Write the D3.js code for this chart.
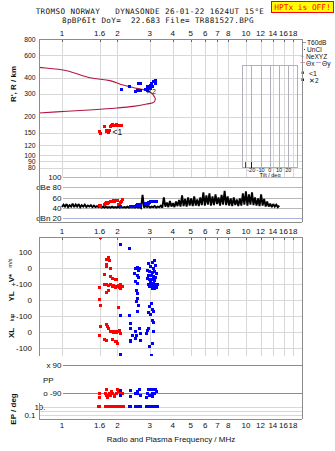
<!DOCTYPE html>
<html><head><meta charset="utf-8">
<script src="https://cdn.jsdelivr.net/npm/d3@7"></script>
<style>
body{margin:0;background:#fff}
svg{display:block}
text{font-family:"Liberation Sans",Arial,sans-serif;fill:#111}
.mono{font-family:"DejaVu Sans Mono",monospace;white-space:pre}
</style></head><body>
<svg id="chart" width="335" height="451"></svg>
<script>
// ---- frequency axis ----
const freqTicks = [1, 1.6, 2, 3, 4, 5, 6, 7, 8, 10, 12, 14, 16, 18];

// ---- virtual range axis (km) ----
const rangeTicks = [800, 600, 400, 300, 200, 150, 120, 100, 90, 80];

// ---- electron density profile: plasma frequency (MHz) vs real height (km) ----
const profileMHz = [0.70, 0.750, 1.061, 1.420, 1.823, 2.154, 2.547, 2.826, 3.007, 3.134, 3.215, 3.162, 2.886, 2.440, 1.983, 1.480, 1.061, 0.750, 0.70];
const profileKm  = [488, 482, 454, 400, 380, 351, 331, 321, 312, 294, 274, 259, 250, 240, 233, 226, 220, 213, 212];

// ---- receiver noise sweep ----
const noiseMHz = [1.000,1.019,1.039,1.059,1.079,1.100,1.121,1.142,1.164,1.187,1.209,1.233,1.256,1.280,1.305,1.330,1.356,1.382,1.408,1.435,1.463,1.491,1.519,1.549,1.578,1.609,1.640,1.671,1.703,1.736,1.769,1.803,1.838,1.873,1.909,1.946,1.983,2.021,2.060,2.100,2.140,2.181,2.223,2.266,2.309,2.354,2.399,2.445,2.492,2.540,2.588,2.638,2.689,2.740,2.793,2.847,2.901,2.957,3.014,3.072,3.131,3.191,3.252,3.314,3.378,3.443,3.509,3.576,3.645,3.715,3.786,3.859,3.933,4.008,4.085,4.164,4.244,4.325,4.408,4.493,4.579,4.667,4.757,4.848,4.941,5.036,5.133,5.231,5.332,5.434,5.538,5.645,5.753,5.864,5.976,6.091,6.208,6.327,6.449,6.573,6.699,6.828,6.959,7.092,7.229,7.367,7.509,7.653,7.800,7.950,8.102,8.258,8.416,8.578,8.743,8.911,9.082,9.256,9.434,9.615,9.800,9.988,10.18,10.38,10.57,10.78,10.98,11.19,11.41,11.63,11.85,12.08,12.31,12.55,12.79,13.03,13.28,13.54,13.80,14.06,14.33,14.61,14.89,15.17];
const noiseDb = [41,46,42,47,41,45,42,48,41,46,42,47,41,45,42,46,41,44,42,45,41,44,41,43,41,42,40,42,40,42,40,41,40,42,40,41,40,42,40,41,40,41,40,42,40,41,40,41,40,42,40,41,39,65,40,44,41,43,40,42,41,43,40,42,41,44,40,60,42,50,41,53,42,49,41,52,43,55,42,64,43,57,42,60,44,58,43,62,44,56,43,60,45,70,44,64,46,68,44,62,45,66,47,60,44,65,46,73,45,62,44,58,43,60,45,56,43,58,44,68,46,72,44,66,46,70,45,60,44,58,43,66,44,57,42,52,42,48,41,47,42,46,41,44];

// ---- trace 1 (red, "<1") ----
const t1Range = [[1.59,152],[1.61,148],[1.71,167],[1.74,157],[1.75,152],[1.79,150],[1.81,157],[1.83,166],[1.85,170],[1.89,172],[1.92,171],[1.95,171],[1.99,172],[2.03,171],[2.07,171],[2.11,170]];
const t1Amp = [[1.59,44],[1.61,45],[1.62,43],[1.71,47],[1.73,49],[1.75,50],[1.77,49],[1.80,51],[1.83,52],[1.86,52],[1.88,53],[1.91,54],[1.94,53],[1.98,55],[2.01,55],[2.04,47],[2.06,46],[2.08,50],[2.11,53],[2.14,56]];
const t1Vstar = [[1.61,195],[1.74,52],[1.79,66],[1.81,46],[1.75,25],[1.74,10],[1.83,0],[1.71,-38],[1.83,-52],[1.89,-63],[1.95,-67],[1.99,-73],[1.71,-104],[1.75,-100],[1.79,-109],[1.83,-104],[1.87,-115],[1.90,-109],[1.95,-121],[1.99,-115],[2.03,-109],[2.06,-121],[2.09,-104],[2.12,-115],[2.09,-125],[1.59,-121],[1.79,-136],[1.75,-150]];
const t1YL = [[1.59,6],[1.61,-30],[2.03,-47]];
const t1XL = [[1.61,35],[1.74,46],[1.76,35],[1.79,21],[1.83,8],[1.87,4],[1.90,0],[1.95,8],[1.99,0],[2.03,4],[2.06,14],[2.07,-6],[1.59,-17],[1.71,-48],[1.74,-54],[1.89,-48],[1.95,-59],[1.99,-59],[2.00,-69]];
const t1PP = [[1.60,-90],[1.59,-118],[1.74,-63],[1.72,-90],[1.74,-105],[1.77,-115],[1.81,-90],[1.84,-101],[1.89,-90],[1.92,-101],[1.97,-90],[2.00,-69],[2.04,-80],[2.07,-90],[2.12,-90],[2.09,-105],[1.79,-107],[1.86,-80],[1.94,-112]];
const t1EP = [[1.58,11],[1.60,11],[1.72,11],[1.74,11],[1.76,11],[1.78,11],[1.80,11],[1.82,11],[1.84,11],[1.86,11],[1.88,11],[1.90,11],[1.92,11],[1.94,11],[1.96,11],[1.98,11],[2.00,11],[2.02,11],[2.04,11],[2.06,11],[2.08,11],[2.10,11],[2.12,11],[2.15,10]];
const t1Tilt = -26.5;

// ---- trace 2 (blue, "✕2") ----
const t2Range = [[2.10,327],[2.33,345],[2.51,312],[2.56,321],[2.61,362],[2.66,362],[2.67,321],[2.84,325],[2.90,321],[2.92,341],[2.96,331],[3.02,351],[3.02,331],[3.08,362],[3.09,345],[3.14,373],[3.24,384],[3.24,362]];
const t2Amp = [[2.09,42],[2.37,43],[2.40,43],[2.44,42],[2.53,44],[2.57,46],[2.60,45],[2.65,44],[2.68,46],[2.86,48],[2.90,47],[2.94,49],[2.97,50],[3.00,51],[3.04,52],[3.08,53],[3.12,53],[3.16,52],[3.21,53],[3.26,53]];
const t2Vstar = [[2.09,146],[2.33,121],[2.51,-4],[2.56,4],[2.65,0],[2.62,-11],[2.49,-31],[2.56,-46],[2.62,-59],[2.51,-84],[2.56,-94],[2.54,-136],[2.96,31],[3.09,37],[3.18,46],[3.22,16],[3.03,10],[3.13,0],[2.92,-11],[2.99,-21],[3.09,-25],[3.18,-17],[3.26,-31],[2.96,-42],[3.05,-46],[3.13,-52],[3.22,-59],[2.90,-63],[2.99,-67],[3.09,-73],[3.18,-79],[3.03,-88],[3.13,-94],[3.22,-100],[2.96,-100],[3.05,-109],[3.15,-115],[3.26,-121],[3.09,-125],[3.18,-129],[2.99,-115],[3.29,-104]];
const t2YL = [[2.56,43],[2.58,12],[2.54,-9],[2.62,-36],[2.58,-72],[3.07,-19],[2.99,-41],[3.10,-61],[3.15,-68],[2.96,-76],[3.03,-88],[2.33,-93],[2.07,-93]];
const t2XL = [[3.09,71],[3.15,62],[2.35,56],[2.35,25],[2.65,25],[2.51,4],[2.67,-6],[2.54,-17],[2.90,14],[2.96,25],[2.87,-6],[3.13,4],[2.41,-17],[2.51,-38],[2.35,-54],[2.67,-54],[3.09,-69],[2.98,-90],[3.05,-146],[2.09,-136],[2.35,-59],[3.09,-73]];
const t2PP = [[2.09,-75],[2.09,-107],[2.35,-73],[2.51,-90],[2.56,-80],[2.65,-63],[2.67,-101],[2.58,-90],[2.87,-115],[2.96,-69],[3.03,-63],[3.09,-90],[3.15,-69],[3.22,-69],[2.99,-101],[3.09,-112],[3.18,-90],[3.26,-80],[2.92,-90],[2.35,-110]];
const t2EP = [[2.34,11],[2.37,11],[2.51,11],[2.54,11],[2.57,11],[2.60,11],[2.63,11],[2.66,11],[2.88,11],[2.91,11],[2.94,11],[2.97,11],[3.00,11],[3.03,11],[3.06,11],[3.09,11],[3.12,11],[3.15,11],[3.18,11],[3.21,11],[3.24,11],[3.27,11],[3.30,11]];
const t2Tilt = -20.5;

const tiltTicks = [-20, -10, 0, 10, 20];
const dbTicks = [[100, "100"], [80, "dBe 80"], [60, "60"], [40, "40"], [20, "dBn 20"]];
const velTicks = [["v", 100, "100"], ["v", 0, "0"], ["v", -100, "+-100"], ["yl", 0, "0"], ["yl", -100, "+-100"], ["xl", 0, "0"], ["xl", -100, "-100"]];

const RED = "#ff0000", BLUE = "#0000ff";
const L = 39, R = 302;

const svg = d3.select("#chart");
const x = d3.scaleLog().domain([1, 10]).range([62, 246]);
const yR = d3.scaleLog().domain([100, 800]).range([155.3, 39]);
const yDb = d3.scaleLinear().domain([20, 100]).range([217.7, 177.3]);
const yV = d3.scaleLinear().domain([-100, 100]).range([284.3, 252.3]);
const yYL = d3.scaleLinear().domain([-100, 100]).range([316.2, 284.2]);
const yXL = d3.scaleLinear().domain([-100, 100]).range([348.3, 316.3]);
const yPP = d3.scaleLinear().domain([-90, 90]).range([393.3, 365]);
const yEP = d3.scaleLog().domain([0.1, 10]).range([415, 406.7]);
const xTilt = d3.scaleLinear().domain([-30, 30]).range([242, 297.6]);
const subScale = {v: yV, yl: yYL, xl: yXL};

const defs = svg.append("defs");
function clip(id, x0, y0, x1, y1) {
  defs.append("clipPath").attr("id", id).append("rect")
    .attr("x", x0).attr("y", y0).attr("width", x1 - x0).attr("height", y1 - y0);
  return "url(#" + id + ")";
}
const clipRange = clip("cr", L, 39, R, 177);
const clipDb = clip("cd", L, 177, R, 222);
const clipVel = clip("cv", L, 237, R, 356);
const clipPP = clip("cp", L, 356, R, 419);

function hline(g, y, x0, x1, color) {
  g.append("line").attr("x1", x0).attr("x2", x1)
    .attr("y1", Math.round(y) + 0.5).attr("y2", Math.round(y) + 0.5)
    .attr("stroke", color).attr("shape-rendering", "crispEdges");
}
function vline(g, xx, y0, y1, color) {
  g.append("line").attr("x1", Math.round(xx) + 0.5).attr("x2", Math.round(xx) + 0.5)
    .attr("y1", y0).attr("y2", y1)
    .attr("stroke", color).attr("shape-rendering", "crispEdges");
}
function squares(g, data, xs, ys, color, s) {
  s = s || 3;
  g.selectAll(null).data(data).join("rect")
    .attr("x", d => Math.round(xs(d[0]) - s / 2)).attr("y", d => Math.round(ys(d[1]) - s / 2))
    .attr("width", s).attr("height", s).attr("fill", color)
    .attr("shape-rendering", "crispEdges");
}

// ---- header ----
svg.append("text").attr("class", "mono").attr("x", 150).attr("y", 14)
  .attr("text-anchor", "middle").style("font-size", "7.6px").style("letter-spacing", "0.4px")
  .text("TROMSO NORWAY   DYNASONDE 26-01-22 1624UT 15°E");
svg.append("text").attr("class", "mono").attr("x", 158).attr("y", 23)
  .attr("text-anchor", "middle").style("font-size", "7.6px").style("letter-spacing", "0.35px")
  .text("8pBP6It DoY=  22.683 File= TR881527.BPG");
svg.append("rect").attr("x", 271.5).attr("y", 1.5).attr("width", 62).attr("height", 11)
  .attr("fill", "#ffff00").attr("stroke", "#ff0000");
svg.append("text").attr("class", "mono").attr("x", 302.5).attr("y", 10.3)
  .attr("text-anchor", "middle").style("font-size", "7.8px").style("fill", "#ff0000")
  .text("HPTx is OFF!");

// ---- range panel grid ----
const gGrid = svg.append("g");
rangeTicks.forEach(r => hline(gGrid, yR(r), L, R, "#d8d8d8"));
freqTicks.forEach(f => vline(gGrid, x(f), 39, 177, "#d8d8d8"));
freqTicks.forEach(f => vline(gGrid, x(f), 39, 42, "#666"));

// frequency labels (top, middle, bottom)
[36, 233.5, 427.5].forEach(yy => {
  svg.append("g").selectAll(null).data(freqTicks).join("text")
    .attr("x", d => x(d)).attr("y", yy).attr("text-anchor", "middle")
    .style("font-size", "8px").text(d => d);
});

// range labels
svg.append("g").selectAll(null).data(rangeTicks).join("text")
  .attr("x", 35.5).attr("y", d => yR(d) + 2.5).attr("text-anchor", "end")
  .style("font-size", "6.8px").text(d => d);
svg.append("text").attr("transform", "translate(16,84) rotate(-90)")
  .attr("text-anchor", "middle").style("font-size", "8px").style("font-weight", "bold")
  .text("R', R / km");

// tilt inset
const gTilt = svg.append("g");
gTilt.append("rect").attr("x", 242.5).attr("y", 65.5).attr("width", 55).attr("height", 102)
  .attr("fill", "none").attr("stroke", "#b0b0b8").attr("shape-rendering", "crispEdges");
tiltTicks.forEach(t => vline(gTilt, xTilt(t), 65.5, 167.5, "#b0b0b8"));
vline(gTilt, xTilt(t1Tilt), 162, 167.5, RED);
vline(gTilt, xTilt(t2Tilt), 162, 167.5, BLUE);
gTilt.selectAll(null).data(tiltTicks).join("text")
  .attr("x", d => xTilt(d)).attr("y", 171.5).attr("text-anchor", "middle")
  .style("font-size", "5.5px").text(d => d);
gTilt.append("text").attr("x", 270).attr("y", 176.5).attr("text-anchor", "middle")
  .style("font-size", "5.5px").text("Tilt / deg");

// profile and echoes in range panel
const gRange = svg.append("g").attr("clip-path", clipRange);
gRange.append("path")
  .datum(profileMHz.map((f, i) => [f, profileKm[i]]))
  .attr("d", d3.line().x(d => x(d[0])).y(d => yR(d[1])).curve(d3.curveCatmullRom))
  .attr("fill", "none").attr("stroke", "#b01840").attr("stroke-width", 1.1);
squares(gRange, t2Range, x, yR, BLUE);
squares(gRange, t1Range, x, yR, RED);
svg.append("text").attr("x", 112.5).attr("y", 135).style("font-size", "8.5px").text("<1");
svg.append("text").attr("x", 146).attr("y", 94).style("font-size", "7px").text("✕2");

// legend
const gLeg = svg.append("g").style("font-size", "6.6px");
hline(gLeg, 42, 302, 306, "#999");
gLeg.append("text").attr("x", 307).attr("y", 44.5).text("T60dB");
gLeg.append("rect").attr("x", 304).attr("y", 49).attr("width", 1).attr("height", 1).attr("fill", "#333");
gLeg.append("text").attr("x", 307).attr("y", 51.5).text("UnCl");
gLeg.append("text").attr("x", 300.5).attr("y", 58.5).style("fill", "#e890a8").text("+");
gLeg.append("text").attr("x", 306).attr("y", 58.5).text("NeXYZ");
hline(gLeg, 62, 300, 305, "#f0a0a8");
gLeg.append("text").attr("x", 306).attr("y", 66).text("Θx");
hline(gLeg, 62, 316, 321, "#a8a8e0");
gLeg.append("text").attr("x", 322).attr("y", 66).text("Θy");
gLeg.append("rect").attr("x", 301.5).attr("y", 71.5).attr("width", 2.5).attr("height", 2.5).attr("fill", RED);
gLeg.append("text").attr("x", 309).attr("y", 75.5).style("font-size", "7px").text("<1");
gLeg.append("rect").attr("x", 301.5).attr("y", 78.5).attr("width", 2.5).attr("height", 2.5).attr("fill", BLUE);
gLeg.append("text").attr("x", 309).attr("y", 83).style("font-size", "6.5px").text("✕2");

// ---- amplitude panel ----
const gDb = svg.append("g");
dbTicks.forEach(d => {
  hline(gDb, yDb(d[0]), 63, R, d[0] === 20 ? "#aab0dd" : "#b8b8b8");
  gDb.append("text").attr("x", 61.5).attr("y", yDb(d[0]) + 3).attr("text-anchor", "end")
    .style("font-size", "8px").text(d[1]);
});
const gDbData = svg.append("g").attr("clip-path", clipDb);
gDbData.append("path")
  .datum(noiseMHz.map((f, i) => [f, noiseDb[i]]))
  .attr("d", d3.line().x(d => x(d[0])).y(d => yDb(d[1])))
  .attr("fill", "none").attr("stroke", "#000").attr("stroke-width", 1.9)
  .attr("stroke-linejoin", "miter").attr("stroke-miterlimit", 2);
squares(gDbData, t1Amp, x, yDb, RED);
squares(gDbData, t2Amp, x, yDb, BLUE);

// top frame (range + amplitude)
const gFrame = svg.append("g");
hline(gFrame, 39, L, R, "#8c8c8c");
hline(gFrame, 221.5, L, R, "#8c8c8c");
vline(gFrame, L, 39, 222, "#8c8c8c");
vline(gFrame, R, 39, 222, "#8c8c8c");

// ---- velocity / location panel ----
const gVel = svg.append("g");
[100, 0, -100].forEach(v => hline(gVel, yV(v), L, R, "#d8d8d8"));
[0, -100].forEach(v => hline(gVel, yYL(v), L, R, "#d8d8d8"));
[0, -100].forEach(v => hline(gVel, yXL(v), L, R, "#d8d8d8"));
freqTicks.forEach(f => vline(gVel, x(f), 237, 356, "#d8d8d8"));
freqTicks.forEach(f => vline(gVel, x(f), 237, 240, "#666"));
velTicks.forEach(t => {
  gVel.append("text").attr("x", 32).attr("y", subScale[t[0]](t[1]) + 3)
    .attr("text-anchor", "end").style("font-size", "8px").text(t[2]);
});
const gVelData = svg.append("g").attr("clip-path", clipVel);
[[t1Vstar, yV], [t1YL, yYL], [t1XL, yXL]].forEach(p => squares(gVelData, p[0], x, p[1], RED));
[[t2Vstar, yV], [t2YL, yYL], [t2XL, yXL]].forEach(p => squares(gVelData, p[0], x, p[1], BLUE));

svg.append("text").attr("transform", "translate(14,278) rotate(-90)").attr("text-anchor", "middle")
  .style("font-size", "8px").style("font-weight", "bold").text("V*");
svg.append("text").attr("transform", "translate(12,263) rotate(-90)").attr("text-anchor", "middle")
  .style("font-size", "5.5px").text("m/s");
svg.append("text").attr("transform", "translate(14,296.5) rotate(-90)").attr("text-anchor", "middle")
  .style("font-size", "8px").style("font-weight", "bold").text("YL");
svg.append("text").attr("transform", "translate(14,317.5) rotate(-90)").attr("text-anchor", "middle")
  .style("font-size", "6px").text("km");
svg.append("text").attr("transform", "translate(14,333) rotate(-90)").attr("text-anchor", "middle")
  .style("font-size", "8px").style("font-weight", "bold").text("XL");

// ---- polarization / ellipticity ----
const gPP = svg.append("g");
hline(gPP, yPP(90), 63, R, "#8c8c8c");
hline(gPP, yPP(-90), 63, R, "#8c8c8c");
gPP.append("text").attr("x", 61.5).attr("y", yPP(90) + 3).attr("text-anchor", "end").style("font-size", "8px").text("x 90");
gPP.append("text").attr("x", 61.5).attr("y", yPP(-90) + 3).attr("text-anchor", "end").style("font-size", "8px").text("o -90");
gPP.append("text").attr("x", 43).attr("y", 383).style("font-size", "8px").text("PP");
[10, 1, 0.1].forEach(v => hline(gPP, yEP(v), L, R, "#d8d8d8"));
gPP.append("text").attr("x", 45.5).attr("y", yEP(10) + 3).attr("text-anchor", "end").style("font-size", "8px").text("10.");
gPP.append("text").attr("x", 35.5).attr("y", yEP(0.1) + 3).attr("text-anchor", "end").style("font-size", "8px").text("0.1");
svg.append("text").attr("transform", "translate(16,409) rotate(-90)").attr("text-anchor", "middle")
  .style("font-size", "8px").style("font-weight", "bold").text("EP / deg");
const gPPData = svg.append("g").attr("clip-path", clipPP);
squares(gPPData, t1PP, x, yPP, RED);
squares(gPPData, t2PP, x, yPP, BLUE);
squares(gPPData, t1EP, x, yEP, RED);
squares(gPPData, t2EP, x, yEP, BLUE);

// bottom frame
const gFrame2 = svg.append("g");
hline(gFrame2, 237, L, R, "#8c8c8c");
hline(gFrame2, 419, L, R, "#8c8c8c");
vline(gFrame2, L, 237, 356, "#8c8c8c");
vline(gFrame2, L, 403, 419, "#8c8c8c");
vline(gFrame2, R, 237, 419, "#8c8c8c");

svg.append("text").attr("x", 171).attr("y", 442).attr("text-anchor", "middle")
  .style("font-size", "8px").text("Radio and Plasma Frequency / MHz");
</script>
</body></html>
